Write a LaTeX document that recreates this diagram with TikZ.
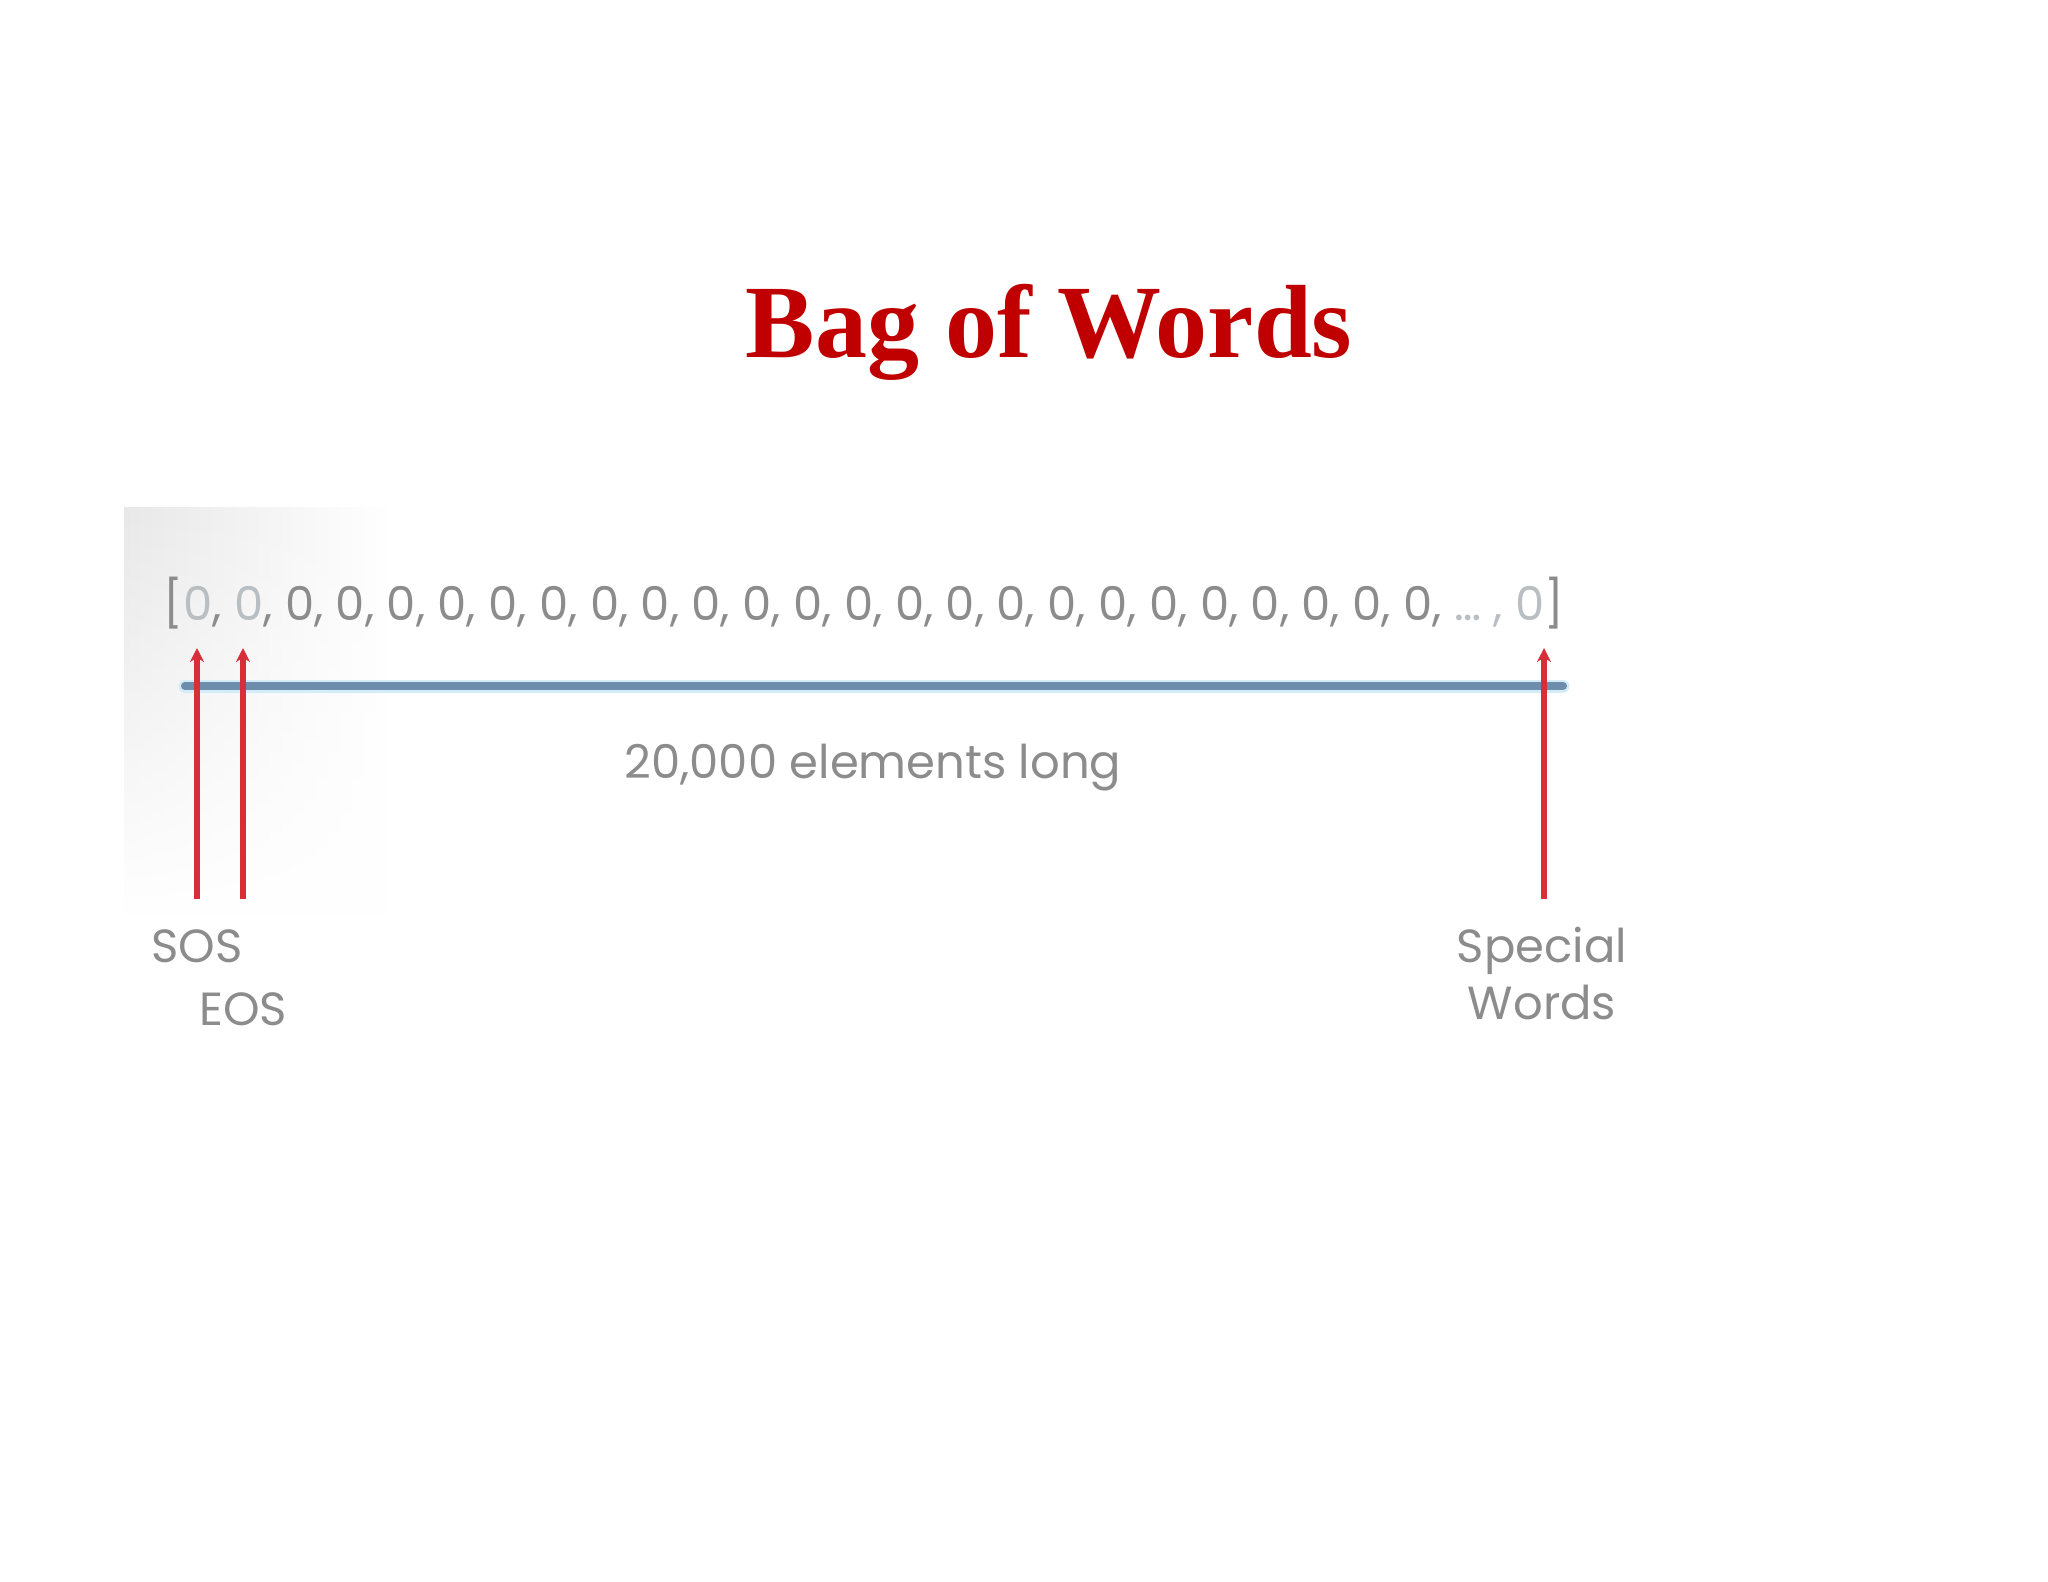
\documentclass[tikz,border=0pt]{standalone}
\usepackage{fontspec}
\setmainfont{Liberation Serif}
\newfontfamily\lblfont{Poppins}
\usetikzlibrary{arrows.meta,fadings}
\definecolor{titlered}{HTML}{C00000}
\definecolor{txtgray}{HTML}{8C8C8C}
\definecolor{lightgray}{HTML}{B8BEC2}
\definecolor{barblue}{HTML}{6E8CAB}
\definecolor{halo}{HTML}{D3ECF7}
\definecolor{arrred}{HTML}{D62F3A}
\tikzset{
  lbl/.style={font=\lblfont\fontsize{46.5}{50}\selectfont, text=txtgray, inner sep=0pt},
  redarrow/.style={draw=arrred, line width=6pt, -{Stealth[length=14pt,width=14pt]}},
}
\begin{document}
\begin{tikzpicture}[x=1pt,y=-1pt]
\useasboundingbox (0,0) rectangle (2048,1582);
\fill[white] (0,0) rectangle (2048,1582);
% faint gray corner of the pasted image
\shade[left color=black!9, right color=white, path fading=south] (124,507) rectangle (392,914);
% title
\node[font=\bfseries\fontsize{104}{110}\selectfont, text=titlered, anchor=base, inner sep=0pt] (title) at (1049,357) {Bag of Words};
% vector
\node[lbl, anchor=base] (vec) at (864,620) {[{\color{lightgray}0}, {\color{lightgray}0}, 0, 0, 0, 0, 0, 0, 0, 0, 0, 0, 0, 0, 0, 0, 0, 0, 0, 0, 0, 0, 0, 0, 0, {\color{lightgray}\dots\ , 0}]};
% length bar
\coordinate (barL) at (185,686);
\coordinate (barR) at (1563,686);
\draw[halo, line width=13pt, line cap=round] (barL) -- (barR);
\draw[barblue, line width=8pt, line cap=round] (barL) -- (barR);
\node[lbl, anchor=base] (len) at (873,778) {20,000 elements long};
% labels
\node[lbl, anchor=base] (sos) at (197,962) {SOS};
\node[lbl, anchor=base] (eos) at (243,1025) {EOS};
\node[lbl, anchor=base, align=center] (spec) at (1542,1019) {Special\\[7pt]Words};
% arrows
\coordinate (sosB) at (197,899);
\coordinate (sosT) at (197,648);
\coordinate (eosB) at (243,899);
\coordinate (eosT) at (243,648);
\coordinate (spB) at (1544,899);
\coordinate (spT) at (1544,648);
\draw[redarrow] (sosB) -- (sosT);
\draw[redarrow] (eosB) -- (eosT);
\draw[redarrow] (spB) -- (spT);
\end{tikzpicture}
\end{document}
